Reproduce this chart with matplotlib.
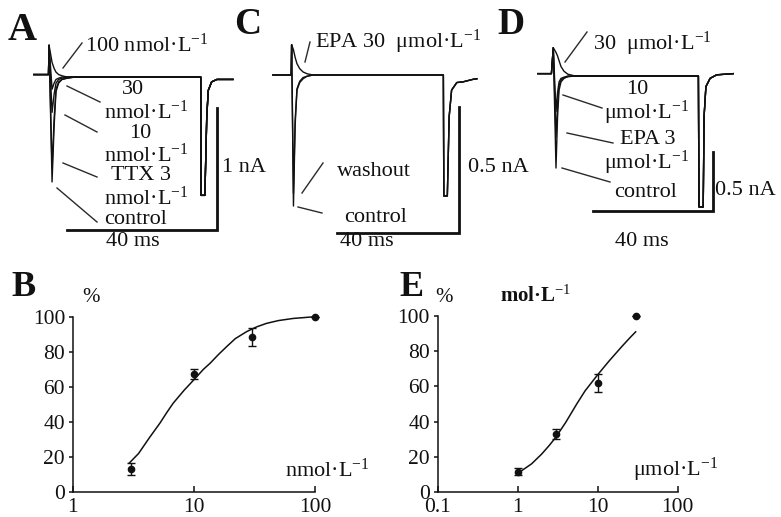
import matplotlib
matplotlib.use("Agg")
import matplotlib.pyplot as plt
from matplotlib.lines import Line2D

plt.rcParams['font.family'] = ['Liberation Serif', 'DejaVu Serif']
plt.rcParams['mathtext.fontset'] = 'custom'
plt.rcParams['mathtext.rm'] = 'Liberation Serif'
plt.rcParams['mathtext.it'] = 'Liberation Serif:italic'
plt.rcParams['mathtext.bf'] = 'Liberation Serif:bold'

W, H = 781, 517

# ---------------- data: current traces (time in ms, current in nA) ----------------
# Panel A - TTX
t_A = [-5.1, -1.2, -1.05, -0.25, 0.3, 0.8, 1.5, 2.4, 3.7, 5.9,
       39.4, 39.5, 40.5, 41.0, 41.4, 42.3, 43.7, 48.0]
tail_A = [0.0, -0.97, -0.97, -0.33, -0.11, -0.04, -0.02, -0.02]
A_control = [0.02, 0.02, 0.26, -0.86, -0.40, -0.12, -0.05, -0.02, -0.01, 0.0]
A_ttx3 = [0.02, 0.02, 0.26, -0.75, -0.34, -0.10, -0.04, -0.02, -0.01, 0.0]
A_ttx10 = [0.02, 0.02, 0.26, -0.29, -0.14, -0.05, -0.02, -0.01, 0.0, 0.0]
A_ttx30 = [0.02, 0.02, 0.26, -0.10, -0.05, -0.02, -0.01, 0.0, 0.0, 0.0]
A_ttx100 = [0.02, 0.02, 0.26, 0.12, 0.07, 0.04, 0.02, 0.01, 0.0, 0.0]

# Panel C - EPA 30 umol/L and washout
t_C = [-6.6, -0.6, -0.45, 0.15, 0.7, 1.3, 2.2, 3.3, 4.6, 6.5,
       49.3, 49.45, 50.6, 51.2, 52.0, 53.7, 55.8, 59.1, 60.3]
tail_C = [0.0, -0.48, -0.48, -0.165, -0.06, -0.03, -0.027, -0.017, -0.015]
C_control = [0.0, 0.0, 0.12, -0.52, -0.20, -0.06, -0.03, -0.015, -0.005, 0.0]
C_washout = [0.0, 0.0, 0.12, -0.47, -0.18, -0.055, -0.025, -0.01, -0.005, 0.0]
C_epa30 = [0.0, 0.0, 0.12, 0.10, 0.07, 0.045, 0.025, 0.012, 0.005, 0.0]

# Panel D - EPA
t_D = [-5.7, -1.2, -0.57, 0.33, 0.85, 1.35, 2.0, 3.0, 4.3, 6.7,
       47.8, 48.0, 49.4, 49.7, 50.3, 51.7, 53.9, 59.4]
tail_D = [0.0, -1.11, -1.11, -0.34, -0.09, -0.02, 0.01, 0.02]
D_control = [0.02, 0.02, 0.24, -0.78, -0.35, -0.12, -0.05, -0.02, -0.005, 0.0]
D_epa3 = [0.02, 0.02, 0.24, -0.52, -0.24, -0.08, -0.035, -0.015, -0.005, 0.0]
D_epa10 = [0.02, 0.02, 0.24, -0.30, -0.14, -0.05, -0.02, -0.01, 0.0, 0.0]
D_epa30 = [0.02, 0.02, 0.24, 0.20, 0.17, 0.13, 0.08, 0.04, 0.015, 0.0]

# ---------------- data: concentration-response ----------------
B_conc = [3, 10, 30, 100]
B_inhib = [13, 67.5, 88.5, 100]
B_err = [3.3, 2.9, 5.2, 0]
B_fit_x = [2.93, 3.5, 4.3, 5.25, 6.0, 6.76, 8.3, 10, 12, 13.6, 16, 18.7, 22, 27.3, 33, 39.8, 50, 66, 100]
B_fit_y = [16.5, 22, 31, 39.3, 45.5, 50.7, 58, 64, 70, 73.4, 78.5, 83, 87.5, 91.5, 94.2, 96.2, 97.8, 99, 100]

E_conc = [1, 3, 10, 30]
E_inhib = [11.5, 33, 62, 100]
E_err = [2, 3, 5, 0]
E_fit_x = [1, 1.5, 2, 2.5, 3, 4, 5.5, 7, 10, 14, 20, 25, 30]
E_fit_y = [10.5, 16, 21.5, 26.5, 31, 39.5, 50, 57.5, 66.5, 74.5, 82.5, 87.3, 91]

NM = r'nmol·L$^{-1}$'
UM = r'μmol·L$^{-1}$'
INK = '#111111'
FS = 16

fig = plt.figure(figsize=(W / 100, H / 100), dpi=100)


def trace_axes(box, origin, px_ms, px_na):
    # box = (left, top, right, bottom) in pixels; origin = pixel of t=0, I=0
    l, t, r, b = box
    ax = fig.add_axes([l / W, 1 - b / H, (r - l) / W, (b - t) / H])
    ax.set_xlim((l - origin[0]) / px_ms, (r - origin[0]) / px_ms)
    ax.set_ylim((origin[1] - b) / px_na, (origin[1] - t) / px_na)
    ax.axis('off')
    return ax


def to_data(origin, px_ms, px_na, x, y):
    return (x - origin[0]) / px_ms, (origin[1] - y) / px_na


def ftext(x, y, s, size=FS, ha='left', va='center', weight='normal'):
    fig.text(x / W, 1 - y / H, s, ha=ha, va=va, fontsize=size,
             fontweight=weight, color=INK)


def leader(x1, y1, x2, y2):
    fig.add_artist(Line2D([x1 / W, x2 / W], [1 - y1 / H, 1 - y2 / H],
                          transform=fig.transFigure, color='#2a2a2a', lw=1.0))


def scale_bar(ax, corner, ms, na):
    cx, cy = corner
    ax.plot([cx - ms, cx, cx], [cy, cy, cy + na], color=INK, lw=2.0,
            solid_joinstyle='miter', clip_on=False)


# ---------------- Panel A ----------------
oA, sxA, syA = (53, 77), 3.75, 122
axA = trace_axes((25, 30, 265, 250), oA, sxA, syA)
for tr in [A_control, A_ttx3, A_ttx10, A_ttx30, A_ttx100]:
    axA.plot(t_A, tr + tail_A, color=INK, lw=1.0, clip_on=False)
scale_bar(axA, to_data(oA, sxA, syA, 217, 230), 40, 1)

ftext(22, 30, 'A', size=29, ha='center', weight='bold')
ftext(85, 45, '100 ' + NM)
leader(82, 43, 63, 68)
ftext(133, 90, '30', ha='center')
ftext(146, 112, NM, ha='center')
leader(67, 86, 100, 102)
ftext(140, 134, '10', ha='center')
ftext(146, 155, NM, ha='center')
leader(65, 115, 97, 132)
ftext(141, 176, 'TTX 3', ha='center')
ftext(146, 198, NM, ha='center')
leader(63, 163, 97, 177)
ftext(136, 219, 'control', ha='center')
leader(57, 188, 97, 222)
ftext(222, 167, '1 nA')
ftext(133, 241, '40 ms', ha='center')

# ---------------- Panel C ----------------
oC, sxC, syC = (293, 75), 3.05, 252
axC = trace_axes((265, 30, 500, 250), oC, sxC, syC)
for tr in [C_control, C_washout, C_epa30]:
    axC.plot(t_C, tr + tail_C, color=INK, lw=1.0, clip_on=False)
scale_bar(axC, to_data(oC, sxC, syC, 459, 233), 40, 0.5)

ftext(248, 24, 'C', size=27, ha='center', weight='bold')
ftext(315, 42, 'EPA 30  ' + UM)
leader(310, 42, 305, 62)
ftext(374, 172, 'washout', ha='center')
leader(323, 163, 302, 193)
ftext(376, 218, 'control', ha='center')
leader(298, 207, 322, 213)
ftext(468, 167, '0.5 nA')
ftext(367, 241, '40 ms', ha='center')

# ---------------- Panel D ----------------
oD, sxD, syD = (555, 76), 3.0, 118
axD = trace_axes((530, 30, 781, 250), oD, sxD, syD)
for tr in [D_control, D_epa3, D_epa10, D_epa30]:
    axD.plot(t_D, tr + tail_D, color=INK, lw=1.0, clip_on=False)
scale_bar(axD, to_data(oD, sxD, syD, 713, 211), 40, 0.5)

ftext(511, 24, 'D', size=27, ha='center', weight='bold')
ftext(593, 44, '30  ' + UM)
leader(587, 32, 565, 62)
ftext(637, 90, '10', ha='center')
ftext(647, 113, UM, ha='center')
leader(563, 95, 602, 108)
ftext(648, 139, 'EPA 3', ha='center')
ftext(647, 163, UM, ha='center')
leader(567, 133, 613, 143)
ftext(646, 192, 'control', ha='center')
leader(562, 168, 610, 182)
ftext(715, 191, '0.5 nA')
ftext(642, 241, '40 ms', ha='center')


# ---------------- Panels B and E ----------------
def dose_axes(left, right, top, bottom, xmin, xmax, xticks, xlabels):
    ax = fig.add_axes([left / W, 1 - bottom / H, (right - left) / W, (bottom - top) / H])
    ax.set_xscale('log')
    ax.set_xlim(xmin, xmax)
    ax.set_ylim(0, 100)
    for s in ['top', 'right']:
        ax.spines[s].set_visible(False)
    for s in ['left', 'bottom']:
        ax.spines[s].set_linewidth(1.1)
        ax.spines[s].set_color(INK)
    ax.set_xticks(xticks)
    ax.set_xticklabels(xlabels)
    ax.xaxis.set_minor_locator(matplotlib.ticker.NullLocator())
    ax.set_yticks([0, 20, 40, 60, 80, 100])
    ax.tick_params(axis='y', direction='out', length=3, width=1.1, pad=2.5, labelsize=15.5, colors=INK)
    ax.tick_params(axis='x', direction='in', length=4, width=1.1, pad=4.5, labelsize=15.5, colors=INK)
    ax.patch.set_alpha(0)
    return ax


axB = dose_axes(72.7, 315, 316.7, 492, 1, 100, [1, 10, 100], ['1', '10', '100'])
axB.plot(B_fit_x, B_fit_y, color=INK, lw=1.1, clip_on=False)
axB.errorbar(B_conc, B_inhib, yerr=B_err, fmt='o', ms=4.5, color=INK,
             ecolor=INK, elinewidth=1.0, capsize=3, clip_on=False)
ftext(23, 288, 'B', size=26, ha='center', weight='bold')
ftext(82, 298, '%', size=15)
ftext(285, 470, NM)

axE = dose_axes(437.5, 677.5, 316, 492, 0.1, 100, [0.1, 1, 10, 100], ['0.1', '1', '10', '100'])
axE.plot(E_fit_x, E_fit_y, color=INK, lw=1.1, clip_on=False)
axE.errorbar(E_conc, E_inhib, yerr=E_err, fmt='o', ms=4.5, color=INK,
             ecolor=INK, elinewidth=1.0, capsize=3, clip_on=False)
ftext(411, 288, 'E', size=26, ha='center', weight='bold')
ftext(444, 298, '%', size=15, ha='center')
ftext(500, 296, r'mol·L$^{-1}$', size=15, weight='bold')
ftext(633, 470, UM)

fig.savefig('out.png', dpi=100)
